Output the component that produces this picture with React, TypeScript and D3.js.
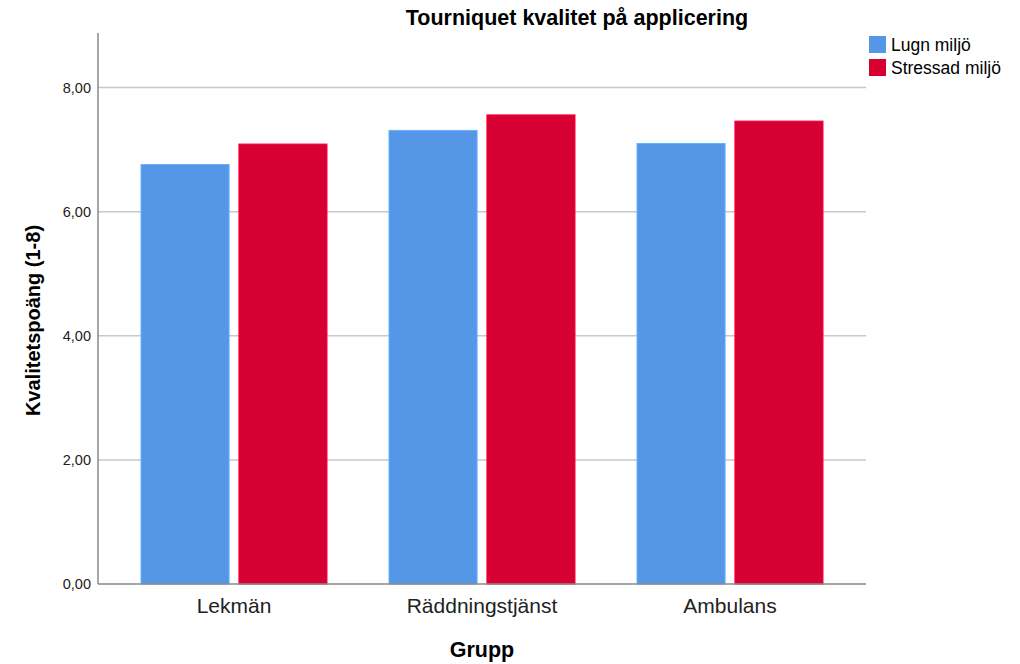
import * as d3 from "d3";
import React, { useEffect, useRef } from "react";

const groups = ["Lekmän", "Räddningstjänst", "Ambulans"];
const seriesNames = ["Lugn miljö", "Stressad miljö"];
const lugnValues = [6.76, 7.31, 7.1];
const stressadValues = [7.09, 7.56, 7.46];
const yTicks = [0, 2, 4, 6, 8];
const colors = ["#5596e6", "#d60032"];

export default function App() {
  const svgRef = useRef<SVGSVGElement | null>(null);

  useEffect(() => {
    if (!svgRef.current) return;
    const width = 1020;
    const height = 664;
    const left = 98;
    const right = 866;
    const top = 33;
    const bottom = 584;

    const svg = d3.select(svgRef.current);
    svg.selectAll("*").remove();
    svg.attr("width", width).attr("height", height).style("font-family", "'Liberation Sans', Arial, sans-serif");

    const y = d3.scaleLinear().domain([0, 8.88]).range([bottom, top]);
    const x = d3.scaleBand().domain(groups).range([left + 12, right - 12]);
    const inner = d3.scaleBand().domain(seriesNames).range([31, x.bandwidth() - 31]).paddingInner(0.1);

    // Title
    svg
      .append("text")
      .attr("x", 577)
      .attr("y", 25)
      .attr("text-anchor", "middle")
      .attr("font-size", 21.5)
      .attr("font-weight", "bold")
      .attr("fill", "#000")
      .text("Tourniquet kvalitet på applicering");

    // Gridlines
    svg
      .append("g")
      .selectAll("line")
      .data(yTicks.slice(1))
      .join("line")
      .attr("x1", left)
      .attr("x2", right)
      .attr("y1", (d) => y(d))
      .attr("y2", (d) => y(d))
      .attr("stroke", "#c8c8c8")
      .attr("stroke-width", 1.5);

    // Bars
    const data = groups.map((g, i) => ({ g, values: [lugnValues[i], stressadValues[i]] }));
    svg
      .append("g")
      .selectAll("g")
      .data(data)
      .join("g")
      .attr("transform", (d) => `translate(${x(d.g)},0)`)
      .selectAll("rect")
      .data((d) => d.values.map((v, j) => ({ v, s: seriesNames[j], j })))
      .join("rect")
      .attr("x", (d) => inner(d.s)!)
      .attr("width", inner.bandwidth())
      .attr("y", (d) => y(d.v))
      .attr("height", (d) => bottom - y(d.v))
      .attr("fill", (d) => colors[d.j])
      .attr("stroke", (d) => d3.color(colors[d.j])!.brighter(0.5).toString())
      .attr("stroke-width", 1);

    // Axes lines
    svg
      .append("line")
      .attr("x1", left)
      .attr("x2", left)
      .attr("y1", top)
      .attr("y2", bottom)
      .attr("stroke", "#888")
      .attr("stroke-width", 1.5);
    svg
      .append("line")
      .attr("x1", left)
      .attr("x2", right)
      .attr("y1", bottom)
      .attr("y2", bottom)
      .attr("stroke", "#888")
      .attr("stroke-width", 1.5);

    // Y tick labels
    svg
      .append("g")
      .selectAll("text")
      .data(yTicks)
      .join("text")
      .attr("x", left - 7)
      .attr("y", (d) => y(d))
      .attr("dy", "0.35em")
      .attr("text-anchor", "end")
      .attr("font-size", 14.5)
      .attr("fill", "#222")
      .text((d) => d3.format(".2f")(d).replace(".", ","));

    // X category labels
    svg
      .append("g")
      .selectAll("text")
      .data(groups)
      .join("text")
      .attr("x", (d) => x(d)! + x.bandwidth() / 2)
      .attr("y", 613)
      .attr("text-anchor", "middle")
      .attr("font-size", 21)
      .attr("fill", "#222")
      .text((d) => d);

    // Axis titles
    svg
      .append("text")
      .attr("x", (left + right) / 2)
      .attr("y", 657)
      .attr("text-anchor", "middle")
      .attr("font-size", 21.5)
      .attr("font-weight", "bold")
      .attr("fill", "#000")
      .text("Grupp");
    svg
      .append("text")
      .attr("transform", `translate(40,${(top + bottom) / 2 + 12}) rotate(-90)`)
      .attr("text-anchor", "middle")
      .attr("font-size", 20)
      .attr("font-weight", "bold")
      .attr("fill", "#000")
      .text("Kvalitetspoäng (1-8)");

    // Legend
    const legend = svg
      .append("g")
      .selectAll("g")
      .data(seriesNames)
      .join("g")
      .attr("transform", (_, i) => `translate(869,${36 + i * 23})`);
    legend
      .append("rect")
      .attr("width", 17)
      .attr("height", 17)
      .attr("fill", (_, i) => colors[i]);
    legend
      .append("text")
      .attr("x", 22)
      .attr("y", 9)
      .attr("dy", "0.35em")
      .attr("font-size", 17.5)
      .attr("fill", "#000")
      .text((d) => d);
  }, []);

  return <svg ref={svgRef} style={{ position: "absolute", left: 0, top: 0 }}></svg>;
}
